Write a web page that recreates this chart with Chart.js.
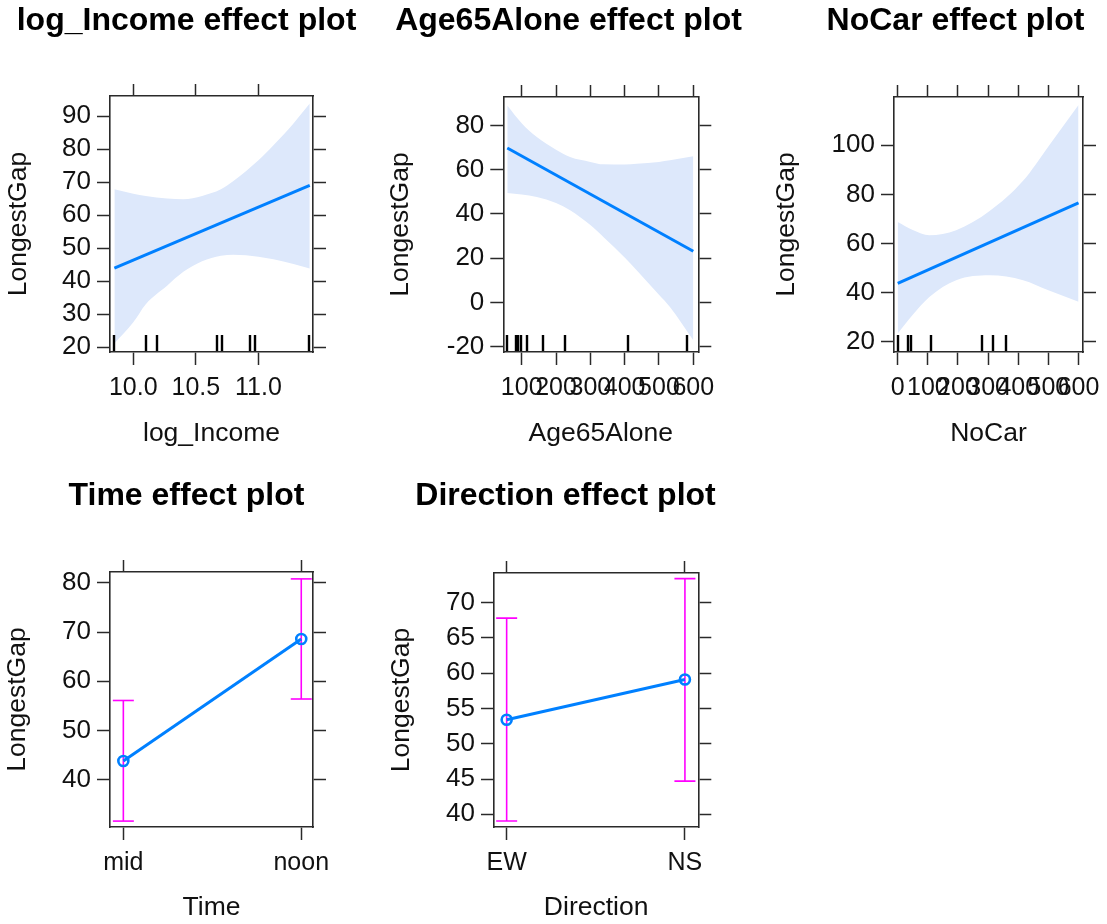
<!DOCTYPE html>
<html><head><meta charset="utf-8">
<script src="https://cdn.jsdelivr.net/npm/chart.js@4/dist/chart.umd.min.js"></script>
<style>
html,body{margin:0;padding:0;background:#fff;overflow:hidden;width:1107px;height:924px;}
canvas{position:absolute;}
</style></head><body>
<canvas id="c1"></canvas><canvas id="c2"></canvas><canvas id="c3"></canvas><canvas id="c4"></canvas><canvas id="c5"></canvas>
<script>
// ---------- data ----------
const yLabel = 'LongestGap';

// log_Income panel
const incomeXTicks = [10.0, 10.5, 11.0];
const incomeXTickLabels = ['10.0', '10.5', '11.0'];
const incomeYTicks = [20, 30, 40, 50, 60, 70, 80, 90];
const incomeFitX = [9.849, 11.41];
const incomeFit = [43.9, 69.0];
const incomeBandX = [9.849, 10.0, 10.1, 10.27, 10.4, 10.55, 10.7, 10.8, 11.0, 11.12, 11.28, 11.41];
const incomeUpper = [67.8, 66.5, 65.8, 65.0, 64.8, 65.8, 67.8, 70.3, 76.6, 81.2, 87.8, 93.8];
const incomeLower = [21.1, 27.5, 33.0, 38.6, 42.8, 46.0, 47.7, 48.0, 47.4, 46.6, 45.2, 43.8];
const incomeRug = [9.849, 10.099, 10.187, 10.665, 10.705, 10.930, 10.970, 11.404];

// Age65Alone panel
const ageXTicks = [100, 200, 300, 400, 500, 600];
const ageXTickLabels = ['100', '200', '300', '400', '500', '600'];
const ageYTicks = [-20, 0, 20, 40, 60, 80];
const ageFitX = [58, 600];
const ageFit = [69.8, 23.2];
const ageBandX = [58, 100, 144, 200, 241, 300, 338, 400, 435, 500, 532, 600];
const ageUpper = [89.0, 81.0, 74.7, 69.0, 65.7, 63.5, 62.4, 62.3, 62.7, 63.5, 64.2, 66.0];
const ageLower = [49.5, 48.8, 47.7, 45.0, 41.7, 35.0, 29.6, 20.3, 14.6, 3.5, -2.0, -17.0];
const ageRug = [58, 82.5, 90, 97, 114.5, 161, 227, 409, 583];

// NoCar panel
const carXTicks = [0, 100, 200, 300, 400, 500, 600];
const carXTickLabels = ['0', '100', '200', '300', '400', '500', '600'];
const carYTicks = [20, 40, 60, 80, 100];
const carFitX = [0, 600];
const carFit = [43.8, 76.5];
const carBandX = [0, 50, 105, 194, 305, 416, 500, 600];
const carUpper = [68.8, 65.5, 63.4, 65.4, 73.2, 85.5, 99.5, 116.3];
const carLower = [23.4, 31.0, 38.3, 45.1, 47.1, 45.1, 41.0, 36.3];
const carRug = [0, 35, 44, 110, 279, 317, 359];

// Time panel
const timeLevels = ['mid', 'noon'];
const timeYTicks = [40, 50, 60, 70, 80];
const timeFit = [43.8, 68.6];
const timeLower = [31.6, 56.4];
const timeUpper = [56.1, 80.8];

// Direction panel
const dirLevels = ['EW', 'NS'];
const dirYTicks = [40, 45, 50, 55, 60, 65, 70];
const dirFit = [53.4, 59.1];
const dirLower = [39.05, 44.7];
const dirUpper = [67.8, 73.4];

// ---------- styling ----------
const FF = "'Liberation Sans', Arial, Helvetica, sans-serif";
const TXT = '#111';
const AX = '#2a2a2a';
const BLUE = '#0080ff';
const BAND = '#dde8fb';
const MAG = '#ff00ff';

const rugPlugin = {
  id: 'rug',
  afterDatasetsDraw(chart, args, opts) {
    if (!opts || !opts.values) return;
    const xs = chart.scales.x, ca = chart.chartArea, ctx = chart.ctx;
    ctx.save();
    ctx.strokeStyle = '#000';
    ctx.lineWidth = 2.4;
    ctx.beginPath();
    opts.values.forEach(v => {
      const px = Math.round(xs.getPixelForValue(v));
      ctx.moveTo(px, ca.bottom - 1);
      ctx.lineTo(px, ca.bottom - 17);
    });
    ctx.stroke();
    ctx.restore();
  }
};

function pts(xs, ys) { return xs.map((x, i) => ({x: x, y: ys[i]})); }
function fixed(vals) { return s => { s.ticks = vals.map(v => ({value: v})); }; }

function panel(p) {
  const cv = document.getElementById(p.id);
  cv.width = p.w; cv.height = p.h;
  cv.style.left = p.x + 'px'; cv.style.top = p.y + 'px';
  cv.style.width = p.w + 'px'; cv.style.height = p.h + 'px';
  const grid = len => ({drawOnChartArea: false, drawTicks: true, tickLength: len, tickWidth: 1.5, tickColor: AX});
  const border = {display: true, color: AX, width: 1.6};
  const xCommon = {type: 'linear', min: p.xmin, max: p.xmax, z: 1, afterBuildTicks: fixed(p.xTicks)};
  const yCommon = {type: 'linear', min: p.ymin, max: p.ymax, z: 1, afterBuildTicks: fixed(p.yTicks)};
  new Chart(cv, {
    type: 'line',
    data: {datasets: p.datasets},
    plugins: [rugPlugin],
    options: {
      responsive: false, animation: false, devicePixelRatio: 1,
      layout: {padding: 0},
      plugins: {
        legend: {display: false}, tooltip: {enabled: false},
        title: {display: true, text: p.title, color: '#000',
          font: {family: FF, size: 32, weight: 'bold', lineHeight: 1.2},
          padding: {top: p.tTop, bottom: p.tBottom}},
        rug: {values: p.rug || null}
      },
      scales: {
        x: Object.assign({}, xCommon, {
          position: 'bottom',
          afterFit: s => { s.height = p.h - p.box.b; },
          ticks: {autoSkip: false, maxRotation: 0, minRotation: 0, padding: 8.6,
            font: {family: FF, size: 25}, color: TXT,
            callback: (v, i) => p.xLabels[i]},
          grid: grid(13), border: border,
          title: {display: true, text: p.xTitle, color: TXT, font: {family: FF, size: 26.5},
            padding: {top: 0, bottom: p.xtPad}}
        }),
        x2: Object.assign({}, xCommon, {
          position: 'top',
          afterFit: s => { s.height = p.box.t - p.titleH; },
          ticks: {display: false}, grid: grid(12), border: border
        }),
        y: Object.assign({}, yCommon, {
          position: 'left',
          afterFit: s => { s.width = p.box.l; },
          ticks: {padding: 6, font: {family: FF, size: 26}, color: TXT,
            callback: v => String(v)},
          grid: grid(13), border: border,
          title: {display: true, text: yLabel, color: TXT, font: {family: FF, size: 26.5},
            padding: {top: p.ytPad, bottom: 0}}
        }),
        y2: Object.assign({}, yCommon, {
          position: 'right',
          afterFit: s => { s.width = p.w - p.box.r; },
          ticks: {display: false}, grid: grid(13), border: border
        })
      }
    }
  });
}

function contDatasets(fx, fy, bx, up, lo) {
  return [
    {data: pts(fx, fy), xAxisID: 'x', yAxisID: 'y', borderColor: BLUE, borderWidth: 3,
      pointRadius: 0, fill: false, order: 0},
    {data: pts(bx, up), xAxisID: 'x', yAxisID: 'y', borderWidth: 0, borderColor: 'rgba(0,0,0,0)',
      pointRadius: 0, fill: '+1', backgroundColor: BAND, cubicInterpolationMode: 'monotone', order: 2},
    {data: pts(bx, lo), xAxisID: 'x', yAxisID: 'y', borderWidth: 0, borderColor: 'rgba(0,0,0,0)',
      pointRadius: 0, fill: false, cubicInterpolationMode: 'monotone', order: 3}
  ];
}

function catDatasets(levels, fit, lo, up) {
  const pos = levels.map((l, i) => i + 1);
  const ds = [{data: pts(pos, fit), xAxisID: 'x', yAxisID: 'y', borderColor: BLUE, borderWidth: 3,
    pointStyle: 'circle', pointRadius: 5, pointBorderWidth: 2.6, pointBorderColor: BLUE,
    pointBackgroundColor: 'rgba(0,0,0,0)', fill: false, order: 0}];
  levels.forEach((l, i) => {
    ds.push({data: [{x: pos[i], y: lo[i]}, {x: pos[i], y: up[i]}], xAxisID: 'x', yAxisID: 'y',
      borderColor: MAG, borderWidth: 1.6, pointStyle: 'line', pointRadius: 10.5,
      pointBorderColor: MAG, pointBorderWidth: 1.6, fill: false, order: 1});
  });
  return ds;
}

panel({id: 'c1', x: 0, y: 0, w: 373, h: 462, box: {l: 110, t: 96, r: 313, b: 352},
  title: 'log_Income effect plot', tTop: 2.2, tBottom: 43.4, titleH: 84,
  xTitle: 'log_Income', xtPad: 12.1, ytPad: 3,
  xmin: 9.814, xmax: 11.436, ymin: 18.5, ymax: 96.1,
  xTicks: incomeXTicks, xLabels: incomeXTickLabels, yTicks: incomeYTicks,
  rug: incomeRug,
  datasets: contDatasets(incomeFitX, incomeFit, incomeBandX, incomeUpper, incomeLower)});

panel({id: 'c2', x: 369, y: 0, w: 399, h: 462, box: {l: 134.3, t: 97, r: 329.3, b: 352},
  title: 'Age65Alone effect plot', tTop: 2.2, tBottom: 44.4, titleH: 85,
  xTitle: 'Age65Alone', xtPad: 12.1, ytPad: 16,
  xmin: 46.4, xmax: 614.6, ymin: -22.3, ymax: 92.8,
  xTicks: ageXTicks, xLabels: ageXTickLabels, yTicks: ageYTicks,
  rug: ageRug,
  datasets: contDatasets(ageFitX, ageFit, ageBandX, ageUpper, ageLower)});

panel({id: 'c3', x: 738, y: 0, w: 435, h: 462, box: {l: 156, t: 97, r: 345, b: 352},
  title: 'NoCar effect plot', tTop: 2.2, tBottom: 44.4, titleH: 85,
  xTitle: 'NoCar', xtPad: 12.1, ytPad: 33,
  xmin: -12.3, xmax: 614.9, ymin: 15.9, ymax: 119.6,
  xTicks: carXTicks, xLabels: carXTickLabels, yTicks: carYTicks,
  rug: carRug,
  datasets: contDatasets(carFitX, carFit, carBandX, carUpper, carLower)});

panel({id: 'c4', x: 0, y: 462, w: 373, h: 462, box: {l: 110, t: 110, r: 313, b: 365},
  title: 'Time effect plot', tTop: 15.2, tBottom: 44.4, titleH: 98,
  xTitle: 'Time', xtPad: 0.7, ytPad: 2,
  xmin: 0.925, xmax: 2.066, ymin: 30.4, ymax: 82.2,
  xTicks: [1, 2], xLabels: timeLevels, yTicks: timeYTicks,
  datasets: catDatasets(timeLevels, timeFit, timeLower, timeUpper)});

panel({id: 'c5', x: 369, y: 462, w: 393, h: 462, box: {l: 125, t: 111, r: 329.3, b: 365},
  title: 'Direction effect plot', tTop: 15.2, tBottom: 45.4, titleH: 99,
  xTitle: 'Direction', xtPad: 0.7, ytPad: 16.3,
  xmin: 0.929, xmax: 2.075, ymin: 38.2, ymax: 74.2,
  xTicks: [1, 2], xLabels: dirLevels, yTicks: dirYTicks,
  datasets: catDatasets(dirLevels, dirFit, dirLower, dirUpper)});
</script>
</body></html>
